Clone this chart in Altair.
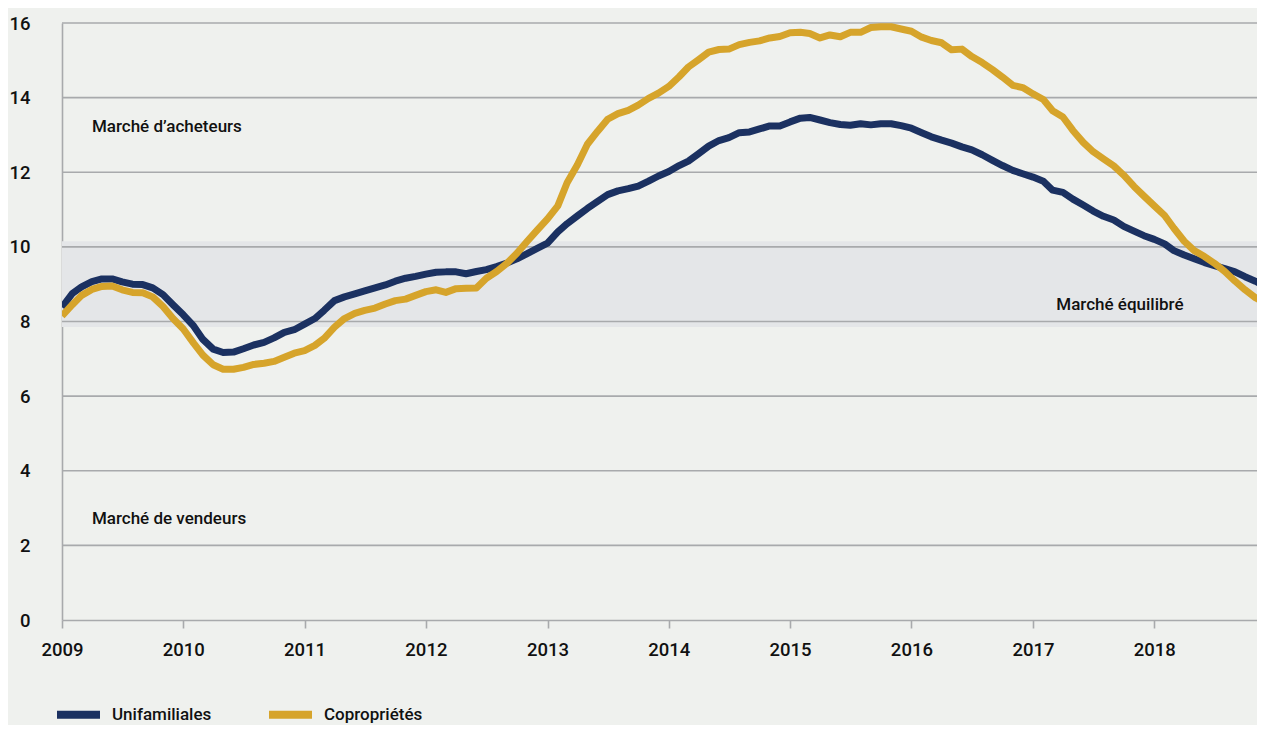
import altair as alt
import pandas as pd

# ---- data ----
months = pd.date_range("2009-01-01", periods=120, freq="MS").strftime("%Y-%m-%d").tolist()

unifamiliales = [
    8.38, 8.75, 8.93, 9.07, 9.14, 9.14, 9.06, 9.00, 8.99, 8.90, 8.72, 8.45,
    8.18, 7.88, 7.52, 7.26, 7.17, 7.18, 7.27, 7.37, 7.44, 7.56, 7.71, 7.78,
    7.93, 8.08, 8.30, 8.56, 8.66, 8.74, 8.82, 8.90, 8.98, 9.08, 9.16, 9.21,
    9.27, 9.32, 9.33, 9.33, 9.28, 9.34, 9.39, 9.47, 9.57, 9.68, 9.82, 9.96,
    10.10, 10.40, 10.62, 10.83, 11.03, 11.22, 11.40, 11.50, 11.56, 11.63, 11.76, 11.90,
    12.02, 12.18, 12.30, 12.50, 12.70, 12.85, 12.93, 13.06, 13.08, 13.16, 13.24, 13.24,
    13.35, 13.45, 13.47, 13.40, 13.33, 13.28, 13.26, 13.30, 13.27, 13.30, 13.30, 13.25,
    13.18, 13.06, 12.95, 12.86, 12.78, 12.68, 12.60, 12.47, 12.32, 12.18, 12.05, 11.96,
    11.87, 11.76, 11.52, 11.46, 11.28, 11.12, 10.96, 10.82, 10.72, 10.55, 10.42, 10.30,
    10.20, 10.08, 9.90, 9.78, 9.68, 9.58, 9.50, 9.42, 9.33, 9.20, 9.08, 8.95,
]

coproprietes = [
    8.15, 8.45, 8.70, 8.86, 8.94, 8.95, 8.85, 8.78, 8.77, 8.66, 8.40, 8.08,
    7.80, 7.42, 7.10, 6.84, 6.72, 6.72, 6.77, 6.85, 6.88, 6.93, 7.04, 7.15,
    7.22, 7.36, 7.55, 7.85, 8.08, 8.22, 8.30, 8.36, 8.47, 8.56, 8.60, 8.70,
    8.80, 8.85, 8.78, 8.88, 8.89, 8.90, 9.16, 9.34, 9.56, 9.83, 10.15, 10.45,
    10.75, 11.10, 11.72, 12.20, 12.75, 13.10, 13.42, 13.57, 13.66, 13.80, 13.98, 14.12,
    14.30, 14.56, 14.82, 15.02, 15.22, 15.29, 15.30, 15.42, 15.48, 15.52, 15.60, 15.64,
    15.74, 15.75, 15.72, 15.60, 15.68, 15.63, 15.75, 15.75, 15.88, 15.90, 15.90, 15.84,
    15.78, 15.62, 15.53, 15.47, 15.28, 15.30, 15.10, 14.94, 14.75, 14.55, 14.33, 14.27,
    14.10, 13.95, 13.65, 13.48, 13.12, 12.80, 12.55, 12.36, 12.17, 11.92, 11.62, 11.36,
    11.10, 10.84, 10.50, 10.15, 9.90, 9.74, 9.56, 9.34, 9.08, 8.85, 8.64, 8.50,
]

series_names = ["Unifamiliales", "Copropriétés"]
series_colors = ["#1b3161", "#d6a42b"]

y_ticks = [0, 2, 4, 6, 8, 10, 12, 14, 16]
year_ticks = [f"{y}-01-01" for y in range(2009, 2019)]
x_domain = ["2009-01-01", "2018-11-06"]

band_low = [7.85]
band_high = [10.15]

note_texts = ["Marché d\u2019acheteurs", "Marché de vendeurs", "Marché équilibré"]
note_dates = ["2009-04-01", "2009-04-01", "2017-03-12"]
note_values = [13.2, 2.72, 8.44]

# ---- tables ----
lines_df = pd.DataFrame({
    "date": months * 2,
    "series": [series_names[0]] * len(months) + [series_names[1]] * len(months),
    "value": unifamiliales + coproprietes,
})
band_df = pd.DataFrame({"low": band_low, "high": band_high})
grid_df = pd.DataFrame({"v": y_ticks[1:]})
notes_df = pd.DataFrame({"text": note_texts, "date": note_dates, "value": note_values})

FONT = "Roboto"
WEIGHT = 500
GRID = "#a8aaac"
INK = "#111111"

x_scale = alt.Scale(domain=x_domain)
y_scale = alt.Scale(domain=[0, 16], nice=False)

band = alt.Chart(band_df).mark_rect(color="#e4e6e8").encode(
    y=alt.Y("low:Q", scale=y_scale),
    y2="high:Q",
)

grid = alt.Chart(grid_df).mark_rule(color=GRID, strokeWidth=1.6).encode(
    y=alt.Y("v:Q", scale=y_scale),
)

lines = alt.Chart(lines_df).mark_line(strokeWidth=7, strokeJoin="round", clip=True).encode(
    x=alt.X(
        "date:T",
        scale=x_scale,
        title=None,
        axis=alt.Axis(
            values=year_ticks,
            format="%Y",
            grid=False,
            tickSize=8,
            tickColor=GRID,
            tickWidth=1.6,
            domainColor=GRID,
            domainWidth=1.6,
            labelFont=FONT,
            labelFontWeight=WEIGHT,
            labelFontSize=18.5,
            labelColor=INK,
            labelPadding=12,
            labelFlush=False,
        ),
    ),
    y=alt.Y(
        "value:Q",
        scale=y_scale,
        title=None,
        axis=alt.Axis(
            values=y_ticks,
            grid=False,
            ticks=False,
            tickSize=0,
            domainColor=GRID,
            domainWidth=1.6,
            labelFont=FONT,
            labelFontWeight=WEIGHT,
            labelFontSize=18.5,
            labelColor=INK,
            labelPadding=32,
        ),
    ),
    color=alt.Color(
        "series:N",
        scale=alt.Scale(domain=series_names, range=series_colors),
        title=None,
        legend=alt.Legend(
            orient="none",
            legendX=-9,
            legendY=666,
            direction="horizontal",
            symbolType="stroke",
            symbolSize=1849,
            symbolStrokeWidth=8,
            labelFont=FONT,
            labelFontWeight=WEIGHT,
            labelFontSize=17,
            labelColor=INK,
            labelOffset=8,
            columnPadding=41,
            padding=0,
        ),
    ),
)

notes = alt.Chart(notes_df).mark_text(
    align="left", baseline="middle", font=FONT, fontWeight=WEIGHT, fontSize=17, color=INK
).encode(
    x=alt.X("date:T", scale=x_scale),
    y=alt.Y("value:Q", scale=y_scale),
    text="text:N",
)

chart = (
    alt.layer(band, grid, lines, notes)
    .properties(
        width=1195,
        height=597,
        padding={"left": 54, "top": 15, "right": 0, "bottom": 105},
        autosize=alt.AutoSizeParams(type="none"),
        background="#eff1ee",
    )
    .configure_view(stroke=None)
)

chart.save("out.html", embed_options={"renderer": "svg", "actions": False})
